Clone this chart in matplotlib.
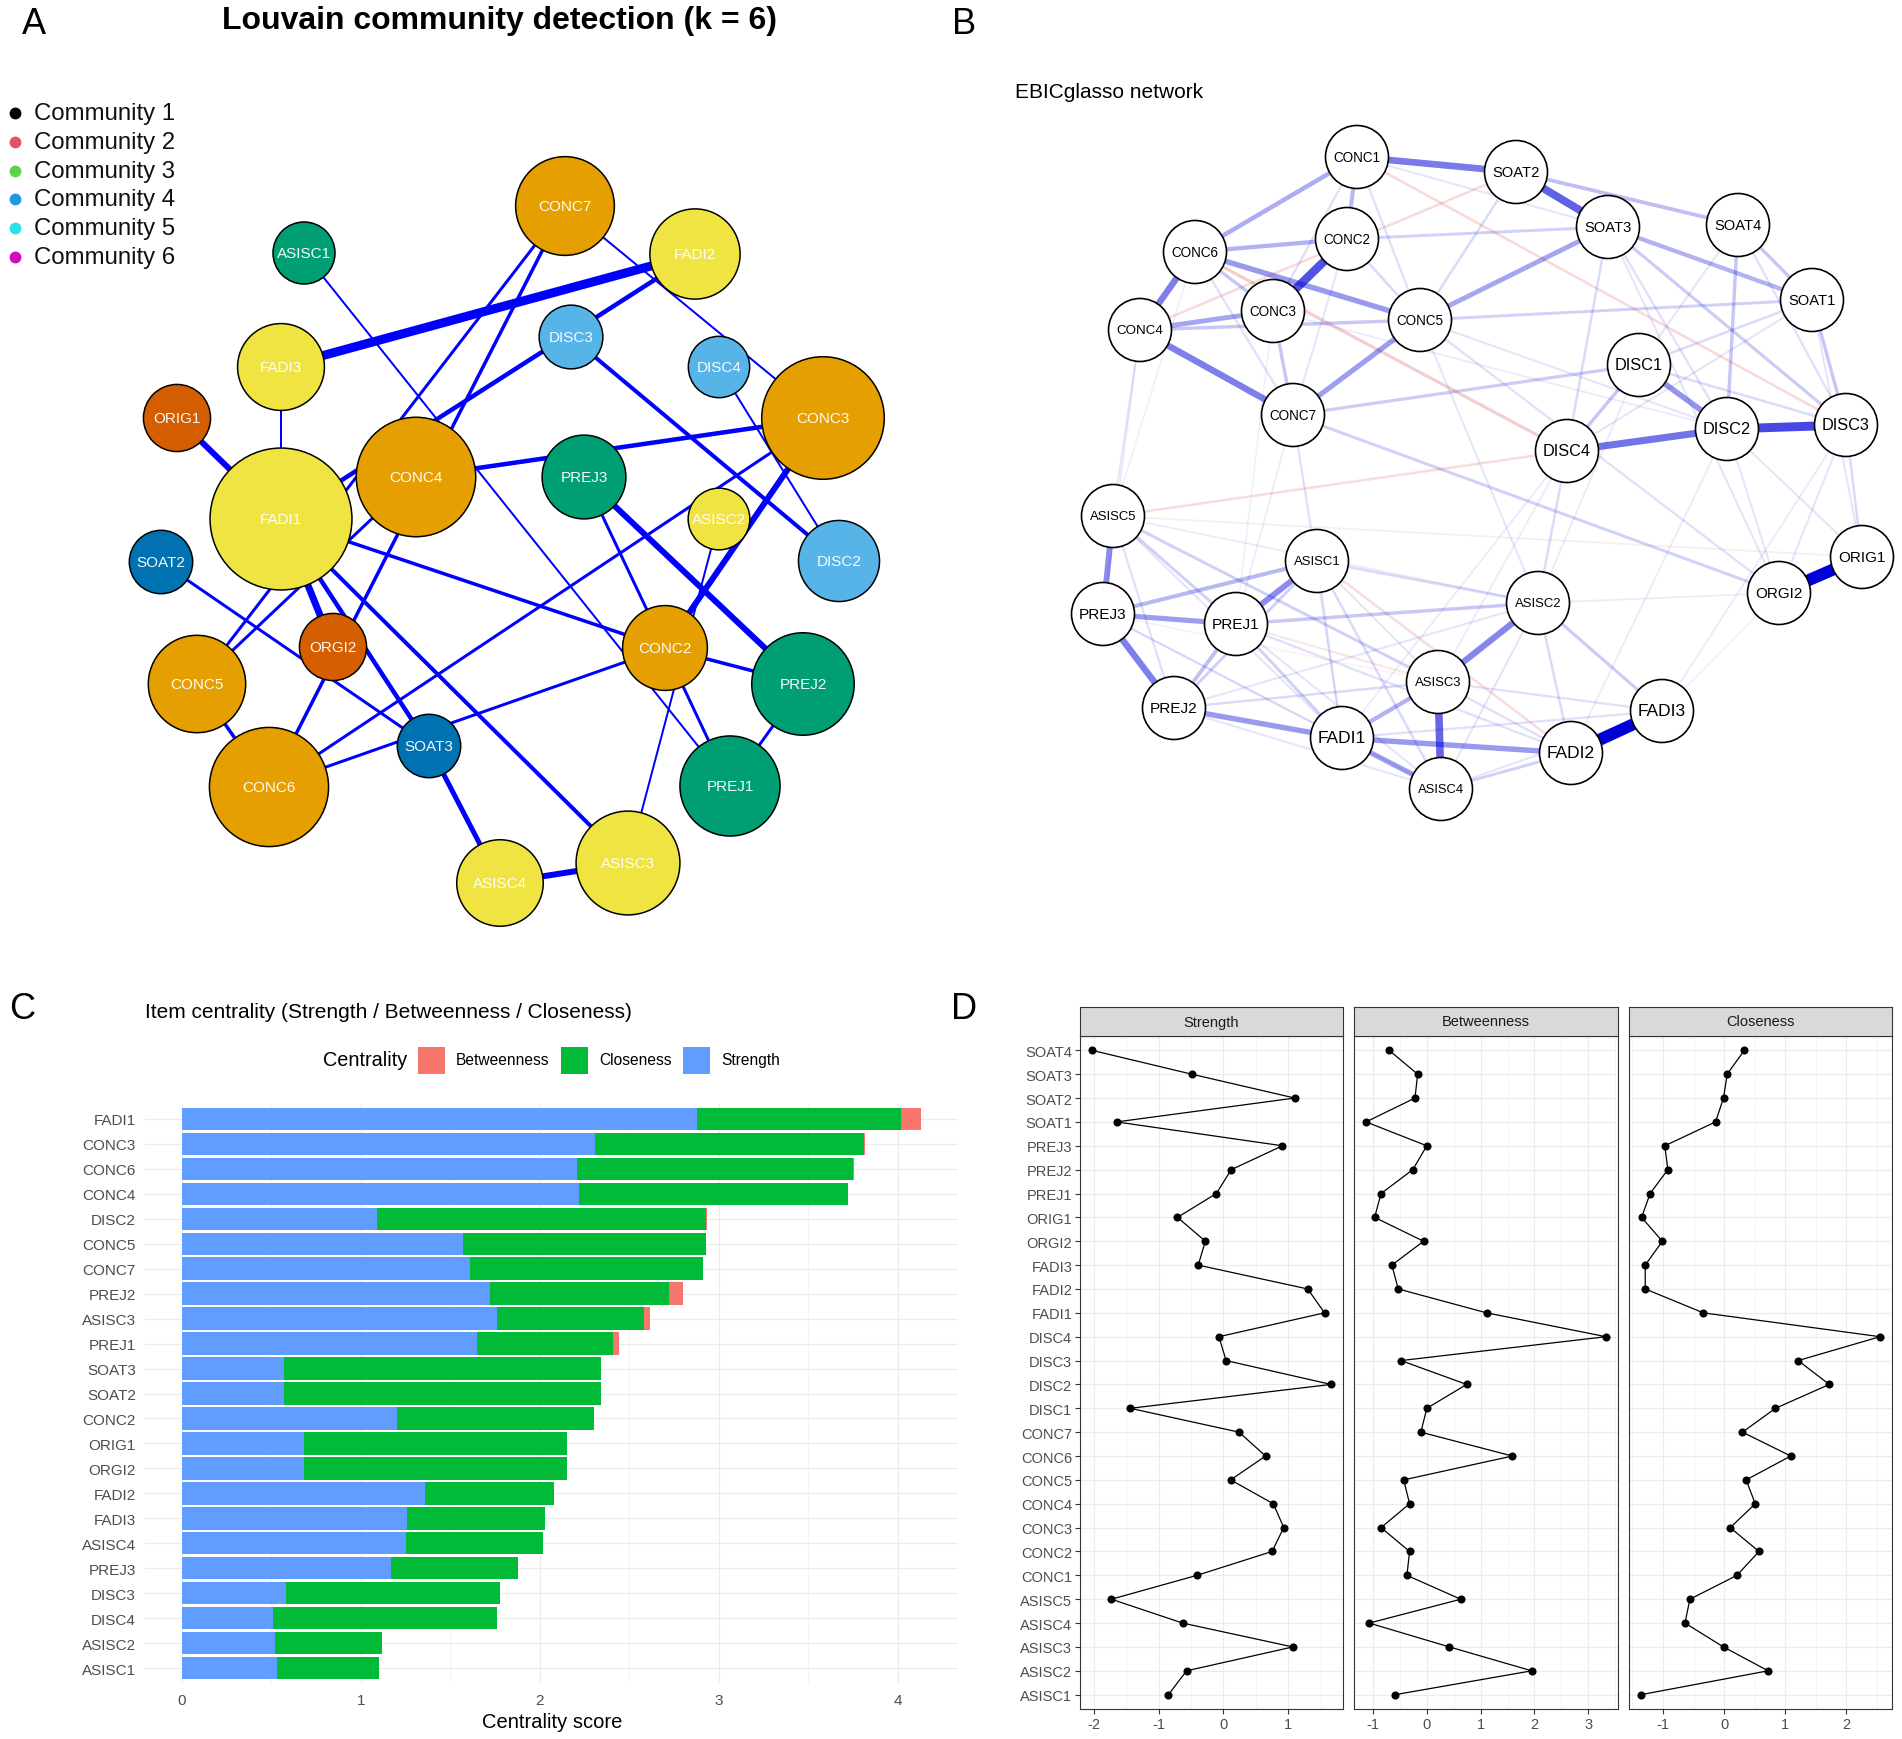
import numpy as np
import matplotlib
matplotlib.use("Agg")
import matplotlib.pyplot as plt
from matplotlib.patches import Circle, Rectangle
from matplotlib.textpath import TextPath
from matplotlib.font_manager import FontProperties

plt.rcParams['font.family'] = ['Liberation Sans', 'DejaVu Sans']

# ======================= DATA =======================
# Panel C : raw centrality (stacked)
c_items = ["FADI1", "CONC3", "CONC6", "CONC4", "DISC2", "CONC5", "CONC7", "PREJ2",
           "ASISC3", "PREJ1", "SOAT3", "SOAT2", "CONC2", "ORIG1", "ORGI2", "FADI2",
           "FADI3", "ASISC4", "PREJ3", "DISC3", "DISC4", "ASISC2", "ASISC1"]
c_strength = [2.88, 2.31, 2.21, 2.22, 1.09, 1.57, 1.61, 1.72, 1.76, 1.65, 0.57, 0.57,
              1.20, 0.68, 0.68, 1.36, 1.26, 1.25, 1.17, 0.58, 0.51, 0.52, 0.53]
c_closeness = [1.14, 1.50, 1.54, 1.50, 1.84, 1.36, 1.30, 1.00, 0.82, 0.76, 1.77, 1.77,
               1.10, 1.47, 1.47, 0.72, 0.77, 0.77, 0.71, 1.20, 1.25, 0.60, 0.57]
c_betweenness = [0.11, 0.006, 0.004, 0.004, 0.003, 0.0, 0.0, 0.08, 0.035, 0.034, 0.0, 0.0,
                 0.0, 0.0, 0.0, 0.0, 0.0, 0.0, 0.0, 0.0, 0.0, 0.0, 0.0]
c_legend_labels = ["Betweenness", "Closeness", "Strength"]

# Panel D : standardized centrality
d_items = ["ASISC1", "ASISC2", "ASISC3", "ASISC4", "ASISC5", "CONC1", "CONC2", "CONC3",
           "CONC4", "CONC5", "CONC6", "CONC7", "DISC1", "DISC2", "DISC3", "DISC4",
           "FADI1", "FADI2", "FADI3", "ORGI2", "ORIG1", "PREJ1", "PREJ2", "PREJ3",
           "SOAT1", "SOAT2", "SOAT3", "SOAT4"]
d_strength = [-0.85, -0.57, 1.07, -0.63, -1.73, -0.41, 0.75, 0.93, 0.77, 0.11, 0.65, 0.24,
              -1.44, 1.66, 0.04, -0.07, 1.56, 1.30, -0.39, -0.28, -0.71, -0.11, 0.12, 0.91,
              -1.65, 1.10, -0.49, -2.03]
d_betweenness = [-0.59, 1.95, 0.42, -1.07, 0.63, -0.37, -0.32, -0.85, -0.32, -0.43, 1.59, -0.11,
                 0.00, 0.74, -0.48, 3.33, 1.11, -0.53, -0.65, -0.06, -0.97, -0.85, -0.26, 0.00,
                 -1.13, -0.22, -0.17, -0.70]
d_closeness = [-1.36, 0.72, -0.01, -0.64, -0.56, 0.21, 0.57, 0.10, 0.51, 0.36, 1.09, 0.30,
               0.84, 1.72, 1.21, 2.55, -0.34, -1.29, -1.29, -1.01, -1.35, -1.21, -0.92, -0.97,
               -0.14, -0.01, 0.05, 0.33]
d_facets = ["Strength", "Betweenness", "Closeness"]

# Panel A : Louvain network (layout + communities + edges)
a_nodes = ["CONC7", "FADI2", "ASISC1", "FADI3", "DISC3", "DISC4", "CONC3", "ORIG1", "CONC4",
           "PREJ3", "FADI1", "ASISC2", "SOAT2", "DISC2", "ORGI2", "CONC2", "CONC5", "PREJ2",
           "SOAT3", "CONC6", "PREJ1", "ASISC4", "ASISC3"]
a_layout_x = [565, 695, 304, 281, 571, 719, 823, 177, 416, 584, 281, 719, 161, 839, 333, 665,
              197, 803, 429, 269, 730, 500, 628]
a_layout_y = [207, 255, 254, 368, 338, 368, 419, 419, 478, 478, 520, 520, 563, 562, 648, 649,
              685, 685, 747, 788, 787, 884, 864]
a_community = ["CONC", "FADI", "PREJ", "FADI", "DISC", "DISC", "CONC", "ORIG", "CONC", "PREJ",
               "FADI", "FADI", "SOAT", "DISC", "ORIG", "CONC", "CONC", "PREJ", "SOAT", "CONC",
               "PREJ", "FADI", "FADI"]
a_edges = [("FADI3", "FADI2", 9), ("ORIG1", "FADI1", 6), ("FADI1", "ORGI2", 7),
           ("PREJ3", "PREJ2", 6), ("CONC3", "CONC2", 6), ("ASISC4", "ASISC3", 6),
           ("SOAT3", "ASISC4", 5), ("FADI1", "SOAT3", 4.5), ("FADI2", "FADI1", 4.5),
           ("CONC4", "CONC3", 4.5), ("DISC3", "DISC2", 4), ("FADI1", "ASISC3", 4),
           ("FADI1", "CONC2", 3.5), ("CONC6", "CONC3", 3), ("CONC6", "CONC2", 3),
           ("CONC7", "CONC6", 3.5), ("CONC7", "CONC5", 3), ("CONC5", "CONC4", 3),
           ("CONC5", "CONC6", 3.5), ("SOAT2", "SOAT3", 3), ("PREJ3", "CONC2", 3),
           ("CONC2", "PREJ2", 3.5), ("CONC2", "PREJ1", 3), ("PREJ2", "PREJ1", 3),
           ("ASISC1", "PREJ1", 2), ("CONC7", "CONC3", 2), ("DISC4", "DISC2", 2),
           ("FADI3", "FADI1", 2), ("ASISC2", "ASISC3", 2)]
community_names = ["Community 1", "Community 2", "Community 3", "Community 4",
                   "Community 5", "Community 6"]
community_legend_colors = ["#000000", "#DF536B", "#61D04F", "#2297E6", "#28E2E5", "#CD0BBC"]
community_fill = {"CONC": "#E69F00", "FADI": "#F0E442", "PREJ": "#009E73",
                  "DISC": "#56B4E9", "SOAT": "#0072B2", "ORIG": "#D55E00"}

# Panel B : EBICglasso network
b_nodes = ["CONC1", "SOAT2", "CONC6", "CONC2", "SOAT3", "SOAT4", "CONC4", "CONC3", "CONC5",
           "SOAT1", "DISC1", "CONC7", "DISC2", "DISC3", "DISC4", "ASISC5", "ASISC1", "ORIG1",
           "ORGI2", "ASISC2", "PREJ3", "PREJ1", "ASISC3", "FADI3", "PREJ2", "FADI1", "FADI2",
           "ASISC4"]
b_layout_x = [1357, 1516, 1195, 1347, 1608, 1738, 1140, 1273, 1420, 1812, 1639, 1293, 1727,
              1846, 1567, 1113, 1317, 1862, 1779, 1538, 1103, 1236, 1438, 1662, 1174, 1342,
              1571, 1441]
b_layout_y = [158, 173, 253, 240, 228, 226, 331, 312, 321, 301, 366, 416, 430, 426, 452, 517,
              562, 558, 594, 604, 615, 625, 683, 712, 709, 739, 754, 790]
b_pos_edges = [("FADI2", "FADI3", 1.0), ("ORIG1", "ORGI2", 1.0), ("DISC2", "DISC3", 0.72),
               ("CONC2", "CONC3", 0.68), ("SOAT2", "SOAT3", 0.62), ("CONC1", "SOAT2", 0.52),
               ("DISC4", "DISC2", 0.55), ("ASISC3", "ASISC4", 0.60), ("CONC4", "CONC7", 0.50),
               ("CONC6", "CONC4", 0.50), ("ASISC2", "ASISC3", 0.48), ("PREJ3", "PREJ2", 0.50),
               ("ASISC5", "PREJ3", 0.45), ("PREJ1", "ASISC1", 0.45), ("DISC1", "DISC2", 0.42),
               ("FADI1", "FADI2", 0.40), ("PREJ2", "FADI1", 0.40), ("FADI1", "ASISC4", 0.38),
               ("FADI1", "ASISC3", 0.30), ("CONC6", "CONC5", 0.40), ("CONC5", "SOAT3", 0.35),
               ("CONC5", "CONC7", 0.38), ("CONC4", "CONC3", 0.35), ("CONC6", "CONC2", 0.30),
               ("CONC6", "CONC1", 0.32), ("CONC1", "CONC2", 0.28), ("SOAT3", "SOAT1", 0.30),
               ("SOAT2", "SOAT4", 0.25), ("SOAT4", "SOAT1", 0.22), ("SOAT4", "DISC2", 0.22),
               ("SOAT1", "DISC3", 0.22), ("PREJ3", "PREJ1", 0.38), ("PREJ3", "ASISC1", 0.28),
               ("PREJ1", "PREJ2", 0.25), ("PREJ1", "ASISC2", 0.22), ("CONC7", "DISC1", 0.20),
               ("CONC4", "CONC5", 0.22), ("CONC3", "CONC7", 0.22), ("CONC6", "CONC3", 0.22),
               ("DISC4", "DISC1", 0.22), ("CONC7", "ORGI2", 0.18), ("SOAT3", "DISC3", 0.20),
               ("ASISC2", "FADI3", 0.20), ("ASISC5", "ASISC3", 0.18), ("ASISC5", "PREJ1", 0.18),
               ("ASISC1", "ASISC2", 0.15), ("DISC4", "ASISC2", 0.14), ("CONC2", "SOAT3", 0.18),
               ("CONC5", "SOAT1", 0.18), ("SOAT2", "CONC5", 0.14), ("ASISC4", "FADI2", 0.18),
               ("PREJ1", "FADI1", 0.18), ("ASISC1", "ASISC4", 0.14), ("PREJ2", "ASISC3", 0.14),
               ("DISC1", "SOAT1", 0.14), ("DISC3", "ORIG1", 0.14), ("SOAT3", "DISC4", 0.14),
               ("CONC5", "ORGI2", 0.12), ("PREJ2", "ASISC1", 0.18),
               ("CONC1", "SOAT3", 0.10), ("CONC1", "CONC5", 0.12), ("CONC1", "CONC3", 0.12),
               ("CONC2", "CONC5", 0.15), ("CONC2", "CONC7", 0.10), ("CONC6", "CONC7", 0.12),
               ("CONC4", "ASISC5", 0.10), ("CONC7", "ASISC1", 0.08), ("CONC7", "PREJ1", 0.08),
               ("CONC7", "FADI1", 0.08), ("CONC3", "DISC2", 0.08), ("CONC5", "DISC2", 0.10),
               ("CONC5", "ASISC2", 0.10), ("SOAT3", "DISC2", 0.12), ("SOAT3", "ORGI2", 0.10),
               ("SOAT4", "DISC3", 0.12), ("SOAT4", "DISC1", 0.10), ("SOAT1", "DISC4", 0.10),
               ("SOAT1", "ORIG1", 0.10), ("DISC1", "DISC3", 0.14), ("DISC2", "ORIG1", 0.10),
               ("DISC2", "ORGI2", 0.10), ("DISC3", "ORGI2", 0.10), ("DISC4", "FADI1", 0.08),
               ("DISC4", "ASISC3", 0.08), ("DISC1", "ASISC2", 0.08), ("ASISC5", "FADI1", 0.10),
               ("ASISC5", "PREJ2", 0.12), ("ASISC5", "ASISC2", 0.08), ("ASISC1", "FADI1", 0.12),
               ("ASISC1", "ASISC3", 0.10), ("ASISC2", "FADI2", 0.14), ("ASISC2", "ASISC4", 0.10),
               ("ASISC2", "ORGI2", 0.08), ("PREJ3", "FADI1", 0.10), ("PREJ3", "ASISC4", 0.08),
               ("PREJ2", "ASISC4", 0.10), ("PREJ2", "ASISC2", 0.10), ("PREJ1", "FADI2", 0.12),
               ("PREJ1", "ASISC4", 0.10), ("FADI1", "FADI3", 0.12), ("ASISC3", "FADI3", 0.12),
               ("ASISC3", "FADI2", 0.12), ("ASISC4", "FADI3", 0.10), ("FADI3", "ORGI2", 0.06),
               ("DISC2", "FADI2", 0.08), ("DISC3", "FADI3", 0.08), ("CONC4", "PREJ3", 0.08),
               ("CONC6", "ASISC5", 0.06), ("CONC3", "PREJ1", 0.06)]
b_neg_edges = [("CONC1", "DISC3", 0.15), ("SOAT2", "CONC4", 0.14), ("CONC6", "DISC4", 0.20),
               ("ASISC5", "DISC4", 0.14), ("ASISC1", "FADI2", 0.14), ("PREJ1", "ASISC3", 0.10),
               ("ASISC5", "ORIG1", 0.07), ("PREJ3", "ASISC3", 0.06)]

# ======================= FIGURE =======================
W, H = 1902, 1740
fig = plt.figure(figsize=(W / 100, H / 100), dpi=100)
PX = 0.72  # points per pixel at dpi 100


def fbox(x0, y0, x1, y1):
    return [x0 / W, 1 - y1 / H, (x1 - x0) / W, (y1 - y0) / H]


net = fig.add_axes([0, 0, 1, 1])
net.set_xlim(0, W)
net.set_ylim(H, 0)
net.axis("off")

# ---------- Panel labels ----------
for lab, (x, y) in zip("ABCD", [(34, 24), (964, 24), (22, 1010), (964, 1010)]):
    net.text(x, y, lab, fontsize=26, ha="center", va="center", color="black")

# ---------- Panel A ----------
net.text(500, 21, "Louvain community detection (k = 6)", fontsize=23,
         fontweight="bold", ha="center", va="center")
for i, (nm, col) in enumerate(zip(community_names, community_legend_colors)):
    yy = 114 + i * 28.8
    net.plot([15], [yy], "o", color=col, markersize=7.5)
    net.text(34, yy, nm, fontsize=17.3, ha="left", va="center", color="#111111")

a_pos = {n: (x, y) for n, x, y in zip(a_nodes, a_layout_x, a_layout_y)}
strength_lookup = dict(zip(c_items, c_strength))
for u, v, wpx in a_edges:
    (x1, y1), (x2, y2) = a_pos[u], a_pos[v]
    net.plot([x1, x2], [y1, y2], color="#0000FF", lw=wpx * PX,
             solid_capstyle="butt", zorder=2)
for n, cm in zip(a_nodes, a_community):
    x, y = a_pos[n]
    r = 22 + 17 * strength_lookup[n]
    net.add_patch(Circle((x, y), r, facecolor=community_fill[cm], edgecolor="black",
                         lw=1.1, zorder=3))
    net.text(x, y, n, color="white", fontsize=11, ha="center", va="center", zorder=4,
             alpha=0.95)

# ---------- Panel B ----------
net.text(1015, 92, "EBICglasso network", fontsize=15, ha="left", va="center")
b_pos = {n: (x, y) for n, x, y in zip(b_nodes, b_layout_x, b_layout_y)}
allb = [(u, v, w, (0.0, 0.0, 0.84)) for u, v, w in b_pos_edges] + \
       [(u, v, w, (0.80, 0.05, 0.05)) for u, v, w in b_neg_edges]
allb.sort(key=lambda e: e[2])
for u, v, w, base in allb:
    (x1, y1), (x2, y2) = b_pos[u], b_pos[v]
    net.plot([x1, x2], [y1, y2], color=base + (min(1.0, w),), lw=(1 + 11 * w) * PX,
             solid_capstyle="butt", zorder=2)
fp = FontProperties(family="Liberation Sans")
for n in b_nodes:
    x, y = b_pos[n]
    net.add_patch(Circle((x, y), 31.5, facecolor="white", edgecolor="black", lw=1.2, zorder=3))
    wpt = TextPath((0, 0), n, size=10, prop=fp).get_extents().width
    fs = 10 * 46.0 / (wpt * 100 / 72)
    net.text(x, y, n, fontsize=fs, ha="center", va="center", color="black", zorder=4)

# ---------- Panel C ----------
col_s, col_c, col_b = "#619CFF", "#00BA38", "#F8766D"
axC = fig.add_axes(fbox(145, 1105, 958, 1684))
n_c = len(c_items)
yc = np.arange(n_c)[::-1]
s_arr = np.array(c_strength)
c_arr = np.array(c_closeness)
b_arr = np.array(c_betweenness)
axC.barh(yc, s_arr, height=0.9, color=col_s, zorder=3)
axC.barh(yc, c_arr, left=s_arr, height=0.9, color=col_c, zorder=3)
axC.barh(yc, b_arr, left=s_arr + c_arr, height=0.9, color=col_b, zorder=3)
total_max = float((s_arr + c_arr + b_arr).max())
axC.set_yticks(yc)
axC.set_yticklabels(c_items)
axC.set_xticks([0, 1, 2, 3, 4])
axC.set_xticks([0.5, 1.5, 2.5, 3.5], minor=True)
axC.set_xlim(-0.05 * total_max, total_max * 1.05)
axC.set_ylim(-0.6, n_c - 1 + 0.6)
for s in axC.spines.values():
    s.set_visible(False)
axC.grid(True, which="major", color="#EBEBEB", lw=0.85, zorder=0)
axC.grid(True, which="minor", axis="x", color="#EBEBEB", lw=0.45, zorder=0)
axC.tick_params(axis="both", which="both", length=0, labelsize=11, labelcolor="#4D4D4D")
axC.tick_params(axis="y", pad=6.5)
axC.tick_params(axis="x", pad=7)
axC.set_facecolor("white")
net.text(145, 1013, "Item centrality (Strength / Betweenness / Closeness)", fontsize=15,
         ha="left", va="center")
net.text(552, 1723, "Centrality score", fontsize=14.5, ha="center", va="center")
# legend
net.text(323, 1061, "Centrality", fontsize=14.3, ha="left", va="center")
leg_cols = [col_b, col_c, col_s]
leg_key_x = [418, 561, 683]
for lab, cc, kx in zip(c_legend_labels, leg_cols, leg_key_x):
    net.add_patch(Rectangle((kx, 1047.5), 27, 27, facecolor=cc, edgecolor="none"))
    net.text(kx + 38, 1061, lab, fontsize=11.2, ha="left", va="center")

# ---------- Panel D ----------
d_vals = [d_strength, d_betweenness, d_closeness]
d_boxes = [(1080, 1343), (1354, 1618), (1629, 1892)]
d_ticks = [[-2, -1, 0, 1], [-1, 0, 1, 2, 3], [-1, 0, 1, 2]]
yd = np.arange(len(d_items))
for k, (ttl, vals, (x0, x1), tks) in enumerate(zip(d_facets, d_vals, d_boxes, d_ticks)):
    ax = fig.add_axes(fbox(x0, 1037, x1, 1710))
    vals = np.array(vals)
    ax.plot(vals, yd, color="black", lw=0.9, zorder=3)
    ax.scatter(vals, yd, s=34, color="black", zorder=4, linewidths=0)
    ax.set_xticks(tks)
    ax.set_xticks([t + 0.5 for t in [tks[0] - 1] + tks], minor=True)
    ax.set_xticklabels([str(t) for t in tks])
    ax.set_yticks(yd)
    lo, hi = vals.min(), vals.max()
    pad = 0.05 * (hi - lo)
    ax.set_xlim(lo - pad, hi + pad)
    ax.set_ylim(-0.6, len(d_items) - 1 + 0.6)
    if k == 0:
        ax.set_yticklabels(d_items)
    else:
        ax.set_yticklabels([])
        ax.tick_params(axis="y", length=0)
    ax.grid(True, which="major", color="#EBEBEB", lw=0.8, zorder=0)
    ax.grid(True, which="minor", axis="x", color="#EBEBEB", lw=0.4, zorder=0)
    ax.tick_params(axis="both", which="major", labelsize=10.5, labelcolor="#4D4D4D",
                   color="#333333", width=0.8, pad=2)
    if k == 0:
        ax.tick_params(axis="y", length=3.5)
    ax.tick_params(axis="x", length=3.5)
    ax.tick_params(which="minor", length=0)
    for s in ax.spines.values():
        s.set_color("#333333")
        s.set_linewidth(0.8)
    st = fig.add_axes(fbox(x0, 1008, x1, 1037))
    st.set_facecolor("#D9D9D9")
    st.set_xticks([])
    st.set_yticks([])
    for s in st.spines.values():
        s.set_color("#333333")
        s.set_linewidth(0.8)
    st.text(0.5, 0.5, ttl, transform=st.transAxes, ha="center", va="center",
            fontsize=10.5, color="#1A1A1A")

fig.savefig("out.png", dpi=100)
